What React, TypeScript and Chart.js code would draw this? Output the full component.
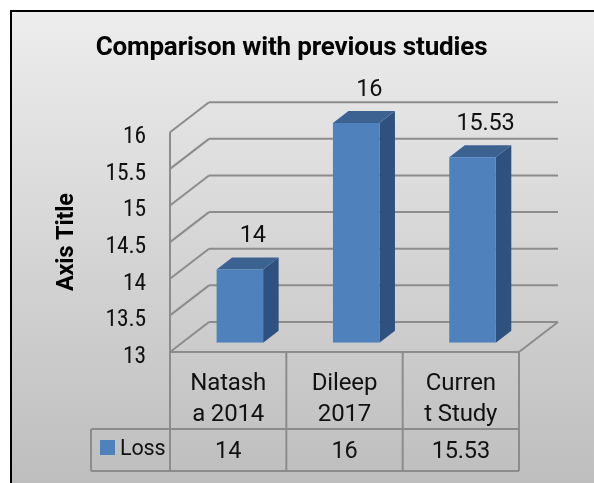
import React, { useEffect, useRef } from "react";
import { Chart, registerables } from "chart.js";

Chart.register(...registerables);

const categories = [["Natash", "a 2014"], ["Dileep", "2017"], ["Curren", "t Study"]];
const lossValues = [14, 16, 15.53];
const valueLabels = ["14", "16", "15.53"];
const seriesName = "Loss";
const chartTitle = "Comparison with previous studies";
const axisTitle = "Axis Title";

const FONT = "Roboto, sans-serif";
const GRID = "#8c8c8c";
const TEXT = "#111111";
const BLUE = "#4f81bd";

// Oblique projection of the 3D column chart, in canvas pixels.
const WALL_DX = 39;
const WALL_DY = -30;
const BAR_DX = 11.7;
const BAR_DY = -9.3;
const BAR_DEPTH_X = 15.5;
const BAR_DEPTH_Y = -12;
const TABLE_BOTTOM = 471;
const TABLE_ROW = 429;
const LEGEND_LEFT = 91;
const TITLE_LEFT = 64;
const TICK_NUDGE = 5;

function line(ctx: CanvasRenderingContext2D, x1: number, y1: number, x2: number, y2: number) {
  ctx.beginPath();
  ctx.moveTo(x1, y1);
  ctx.lineTo(x2, y2);
  ctx.stroke();
}

const frame = {
  id: "frame",
  afterLayout(chart: any) {
    // The title is centred on the whole frame, not on the plot.
    chart.titleBlock.left = TITLE_LEFT;
    // Value-axis labels sit slightly below their gridlines.
    chart.scales.y.getLabelItems().forEach((item: any) => {
      item.options.translation[1] += TICK_NUDGE;
    });
  },
  beforeDraw(chart: any) {
    const { ctx, width, height } = chart;
    ctx.fontStretch = "condensed";
    ctx.letterSpacing = "-0.15px";
    ctx.save();
    ctx.fillStyle = "#ffffff";
    ctx.fillRect(0, 0, width, height);
    const g = ctx.createLinearGradient(0, 10, 0, 483);
    g.addColorStop(0, "#ededed");
    g.addColorStop(1, "#bebebe");
    ctx.fillStyle = g;
    ctx.fillRect(10, 10, 584, 473);
    ctx.strokeStyle = "#000000";
    ctx.lineWidth = 2;
    ctx.beginPath();
    ctx.moveTo(11, 483);
    ctx.lineTo(11, 11);
    ctx.lineTo(594, 11);
    ctx.stroke();
    ctx.restore();
  },
};

// Back wall, side wall and floor, placed from the value axis.
const walls = {
  id: "walls",
  beforeDatasetsDraw(chart: any) {
    const { ctx, chartArea: a, scales } = chart;
    const y = scales.y;
    ctx.save();
    ctx.strokeStyle = GRID;
    ctx.lineWidth = 2;
    y.ticks.forEach((t: any) => {
      const py = y.getPixelForValue(t.value);
      line(ctx, a.left, py, a.left + WALL_DX, py + WALL_DY);
      line(ctx, a.left + WALL_DX, py + WALL_DY, a.right + WALL_DX, py + WALL_DY);
    });
    line(ctx, a.left, a.top, a.left, a.bottom);
    line(ctx, a.right, a.bottom, a.right + WALL_DX, a.bottom + WALL_DY);
    ctx.restore();
  },
};

// Shifts each column onto the floor and adds its top and side faces.
const columns3d = {
  id: "columns3d",
  beforeDatasetDraw(chart: any, args: any) {
    const { ctx } = chart;
    const meta = chart.getDatasetMeta(args.index);
    ctx.save();
    ctx.translate(BAR_DX, BAR_DY);
    meta.data.forEach((bar: any) => {
      const l = bar.x - bar.width / 2;
      const r = bar.x + bar.width / 2;
      const t = bar.y;
      const b = bar.base;
      ctx.fillStyle = "#2f5180";
      ctx.beginPath();
      ctx.moveTo(r, t);
      ctx.lineTo(r + BAR_DEPTH_X, t + BAR_DEPTH_Y);
      ctx.lineTo(r + BAR_DEPTH_X, b + BAR_DEPTH_Y);
      ctx.lineTo(r, b);
      ctx.closePath();
      ctx.fill();
      ctx.fillStyle = "#3c6292";
      ctx.beginPath();
      ctx.moveTo(l, t);
      ctx.lineTo(l + BAR_DEPTH_X, t + BAR_DEPTH_Y);
      ctx.lineTo(r + BAR_DEPTH_X, t + BAR_DEPTH_Y);
      ctx.lineTo(r, t);
      ctx.closePath();
      ctx.fill();
    });
  },
  afterDatasetDraw(chart: any, args: any) {
    const { ctx } = chart;
    const meta = chart.getDatasetMeta(args.index);
    ctx.fillStyle = TEXT;
    ctx.font = `23.5px ${FONT}`;
    ctx.textAlign = "center";
    ctx.textBaseline = "alphabetic";
    meta.data.forEach((bar: any, i: number) => {
      ctx.fillText(valueLabels[i], bar.x + 13, bar.y - 27);
    });
    ctx.restore();
  },
};

// Data table under the plot: category cells, legend key and value row.
const dataTable = {
  id: "dataTable",
  afterDraw(chart: any) {
    const { ctx, chartArea: a, scales } = chart;
    const x = scales.x;
    ctx.save();
    ctx.strokeStyle = GRID;
    ctx.lineWidth = 2;
    const half = x.width / categories.length / 2;
    const edges = [a.left, ...categories.map((_, i) => x.getPixelForValue(i) + half)];
    edges.forEach((ex) => line(ctx, ex, a.bottom, ex, TABLE_BOTTOM));
    line(ctx, a.left, a.bottom, a.right, a.bottom);
    line(ctx, LEGEND_LEFT, TABLE_ROW, a.right, TABLE_ROW);
    line(ctx, LEGEND_LEFT, TABLE_BOTTOM, a.right, TABLE_BOTTOM);
    line(ctx, LEGEND_LEFT, TABLE_ROW, LEGEND_LEFT, TABLE_BOTTOM);
    ctx.fillStyle = BLUE;
    ctx.fillRect(100, 440, 15, 15);
    ctx.fillStyle = TEXT;
    ctx.textBaseline = "alphabetic";
    ctx.textAlign = "left";
    ctx.font = `21.5px ${FONT}`;
    ctx.fillText(seriesName, 120, 455);
    ctx.font = `23.5px ${FONT}`;
    ctx.textAlign = "center";
    lossValues.forEach((_, i) => {
      ctx.fillText(valueLabels[i], x.getPixelForValue(i), 458);
    });
    ctx.restore();
  },
};

export default function App() {
  const ref = useRef<HTMLCanvasElement>(null);
  useEffect(() => {
    const chart = new Chart(ref.current!, {
      type: "bar",
      data: {
        labels: categories,
        datasets: [
          {
            label: seriesName,
            data: lossValues,
            base: 13,
            backgroundColor: BLUE,
            borderWidth: 0,
            barPercentage: 0.4,
            categoryPercentage: 1,
          },
        ],
      },
      options: {
        responsive: false,
        animation: false,
        layout: { padding: { left: 0, right: 75, top: 0, bottom: 0 } },
        plugins: {
          legend: { display: false },
          tooltip: { enabled: false },
          title: {
            display: true,
            text: chartTitle,
            color: "#000000",
            align: "center",
            fullSize: true,
            font: { family: FONT, size: 26, weight: "bold", lineHeight: 1.2 },
            padding: { top: 33, bottom: 68 },
          },
        },
        scales: {
          x: {
            afterFit(scale: any) {
              scale.height = 131;
            },
            grid: { display: false, drawTicks: false },
            border: { display: false },
            ticks: {
              color: TEXT,
              font: { family: FONT, size: 24, lineHeight: 1.27 },
              padding: 17,
              maxRotation: 0,
              autoSkip: false,
            },
          },
          y: {
            min: 13,
            max: 16,
            afterFit(scale: any) {
              scale.width = 170;
            },
            grid: { display: false, drawTicks: false },
            border: { display: false },
            title: {
              display: true,
              text: axisTitle,
              color: "#000000",
              font: { family: FONT, size: 23.5, weight: "bold" },
              padding: { top: 53, bottom: 0 },
            },
            ticks: {
              stepSize: 0.5,
              color: TEXT,
              font: { family: FONT, size: 23.5 },
              padding: 24,
              callback: (v: any) => String(v),
            },
          },
        },
      },
      plugins: [frame, walls, columns3d, dataTable],
    } as any);
    return () => chart.destroy();
  }, []);
  return (
    <div style={{ position: "fixed", left: 0, top: 0, width: 594, height: 483 }}>
      <canvas ref={ref} width={594} height={483} style={{ display: "block" }} />
    </div>
  );
}
